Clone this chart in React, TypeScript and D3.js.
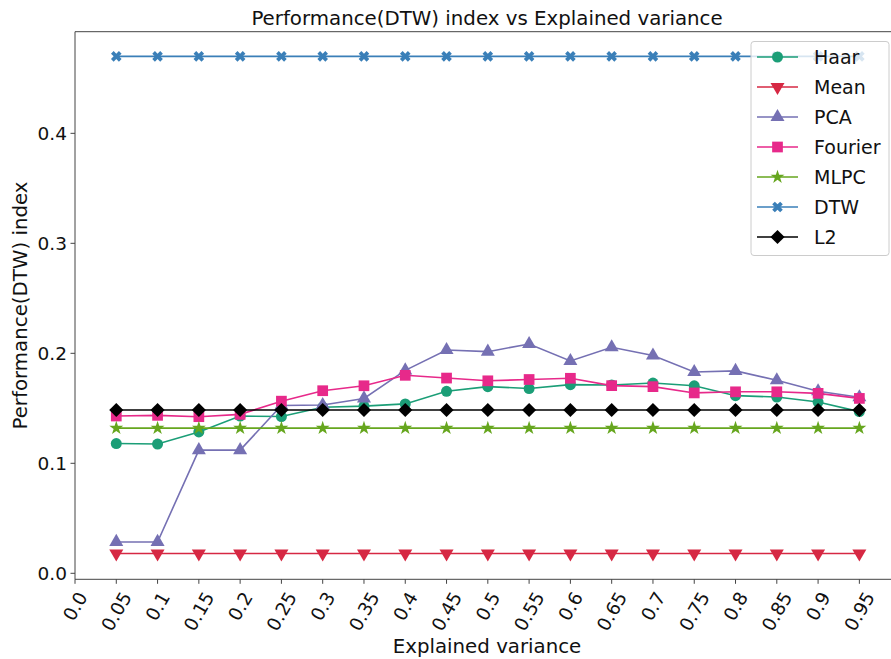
import * as d3 from 'd3';
import React from 'react';

const xValues = [0.05, 0.1, 0.15, 0.2, 0.25, 0.3, 0.35, 0.4, 0.45, 0.5, 0.55, 0.6, 0.65, 0.7, 0.75, 0.8, 0.85, 0.9, 0.95];
const xTicks = [0.0, 0.05, 0.1, 0.15, 0.2, 0.25, 0.3, 0.35, 0.4, 0.45, 0.5, 0.55, 0.6, 0.65, 0.7, 0.75, 0.8, 0.85, 0.9, 0.95];
const xTickLabels = ['0.0', '0.05', '0.1', '0.15', '0.2', '0.25', '0.3', '0.35', '0.4', '0.45', '0.5', '0.55', '0.6', '0.65', '0.7', '0.75', '0.8', '0.85', '0.9', '0.95'];
const yTicks = [0.0, 0.1, 0.2, 0.3, 0.4];

const haar = [0.118, 0.1175, 0.1285, 0.143, 0.1425, 0.151, 0.152, 0.154, 0.1655, 0.1697, 0.168, 0.1715, 0.1712, 0.173, 0.1705, 0.1615, 0.1603, 0.1557, 0.147];
const mean = [0.018, 0.018, 0.018, 0.018, 0.018, 0.018, 0.018, 0.018, 0.018, 0.018, 0.018, 0.018, 0.018, 0.018, 0.018, 0.018, 0.018, 0.018, 0.018];
const pca = [0.0285, 0.0285, 0.112, 0.112, 0.1525, 0.153, 0.159, 0.1845, 0.203, 0.2015, 0.2085, 0.193, 0.2055, 0.198, 0.183, 0.184, 0.1755, 0.1655, 0.16];
const fourier = [0.143, 0.1436, 0.1424, 0.1445, 0.1565, 0.166, 0.1705, 0.18, 0.1775, 0.175, 0.1762, 0.1773, 0.1706, 0.1697, 0.164, 0.165, 0.165, 0.1636, 0.159];
const mlpc = [0.132, 0.132, 0.132, 0.132, 0.132, 0.132, 0.132, 0.132, 0.132, 0.132, 0.132, 0.132, 0.132, 0.132, 0.132, 0.132, 0.132, 0.132, 0.132];
const dtw = [0.47, 0.47, 0.47, 0.47, 0.47, 0.47, 0.47, 0.47, 0.47, 0.47, 0.47, 0.47, 0.47, 0.47, 0.47, 0.47, 0.47, 0.47, 0.47];
const l2 = [0.1485, 0.1485, 0.1485, 0.1485, 0.1485, 0.1485, 0.1485, 0.1485, 0.1485, 0.1485, 0.1485, 0.1485, 0.1485, 0.1485, 0.1485, 0.1485, 0.1485, 0.1485, 0.1485];

const series = [
  { name: 'Haar', values: haar, color: '#1b9e77', symbol: d3.symbolCircle, size: 95, rotate: 0 },
  { name: 'Mean', values: mean, color: '#d62843', symbol: d3.symbolTriangle, size: 85, rotate: 180 },
  { name: 'PCA', values: pca, color: '#7570b3', symbol: d3.symbolTriangle, size: 85, rotate: 0 },
  { name: 'Fourier', values: fourier, color: '#e7298a', symbol: d3.symbolSquare, size: 115, rotate: 0 },
  { name: 'MLPC', values: mlpc, color: '#66a61e', symbol: d3.symbolStar, size: 60, rotate: 0 },
  { name: 'DTW', values: dtw, color: '#3a7fb8', symbol: d3.symbolCross, size: 70, rotate: 45 },
  { name: 'L2', values: l2, color: '#000000', symbol: d3.symbolSquare, size: 100, rotate: 45 },
];

const W = 891;
const H = 659;
const left = 75;
const right = 899;
const top = 31.7;
const bottom = 579.3;
const font = 'DejaVu Sans, sans-serif';

export default function App() {
  const x = d3.scaleLinear().domain([0, 0.998]).range([left, right]);
  const y = d3.scaleLinear().domain([-0.00545, 0.4924]).range([bottom, top]);

  const line = d3
    .line<number>()
    .x((_, i) => x(xValues[i]))
    .y((d) => y(d));

  const fs = 18.5;
  const charW = (s: string) => s.split('').reduce((a, c) => a + (c === '.' ? 0.318 : 0.636), 0) * fs;

  return (
    <svg width={W} height={H} style={{ position: 'absolute', left: 0, top: 0 }} fontFamily={font}>
      <rect width={W} height={H} fill="#fff" />

      {series.map((s) => (
        <g key={s.name}>
          <path d={line(s.values) || ''} fill="none" stroke={s.color} strokeWidth={1.6} />
          {s.values.map((v, i) => (
            <path
              key={i}
              d={d3.symbol().type(s.symbol).size(s.size)() || ''}
              transform={`translate(${x(xValues[i])},${y(v)}) rotate(${s.rotate})`}
              fill={s.color}
            />
          ))}
        </g>
      ))}

      {/* spines */}
      <line x1={left} x2={left} y1={top} y2={bottom} stroke="#444" strokeWidth={1} />
      <line x1={left} x2={right} y1={bottom} y2={bottom} stroke="#444" strokeWidth={1} />
      <line x1={left} x2={right} y1={top} y2={top} stroke="#444" strokeWidth={1} />

      {/* y axis */}
      {yTicks.map((t) => (
        <g key={t}>
          <line x1={left - 4.5} x2={left} y1={y(t)} y2={y(t)} stroke="#444" />
          <text x={left - 8} y={y(t)} dy="0.36em" textAnchor="end" fontSize={fs} fill="#111">
            {t.toFixed(1)}
          </text>
        </g>
      ))}

      {/* x axis */}
      {xTicks.map((t, i) => {
        const w = charW(xTickLabels[i]);
        const h = w * Math.sin(Math.PI / 3) + fs * 0.55;
        const cy = bottom + 9 + h / 2;
        return (
          <g key={t}>
            <line x1={x(t)} x2={x(t)} y1={bottom} y2={bottom + 4.5} stroke="#444" />
            <text
              transform={`translate(${x(t)},${cy}) rotate(-60)`}
              textAnchor="middle"
              dy="0.36em"
              fontSize={fs}
              fill="#111"
            >
              {xTickLabels[i]}
            </text>
          </g>
        );
      })}

      <text x={(left + right) / 2} y={25} textAnchor="middle" fontSize={19.8} fill="#111">
        Performance(DTW) index vs Explained variance
      </text>
      <text x={(left + right) / 2} y={653} textAnchor="middle" fontSize={19.8} fill="#111">
        Explained variance
      </text>
      <text
        transform={`translate(27,${(top + bottom) / 2}) rotate(-90)`}
        textAnchor="middle"
        fontSize={19.8}
        fill="#111"
      >
        Performance(DTW) index
      </text>

      {/* legend */}
      <g>
        <rect x={751} y={41.5} width={138} height={214} rx={3} fill="#fff" fillOpacity={0.8} stroke="#ccc" />
        {series.map((s, i) => {
          const ly = 57 + i * 30;
          return (
            <g key={s.name}>
              <line x1={757} x2={798} y1={ly} y2={ly} stroke={s.color} strokeWidth={1.6} />
              <path
                d={d3.symbol().type(s.symbol).size(s.size)() || ''}
                transform={`translate(777.5,${ly}) rotate(${s.rotate})`}
                fill={s.color}
              />
              <text x={814} y={ly} dy="0.36em" fontSize={19} fill="#111">
                {s.name}
              </text>
            </g>
          );
        })}
      </g>
    </svg>
  );
}
